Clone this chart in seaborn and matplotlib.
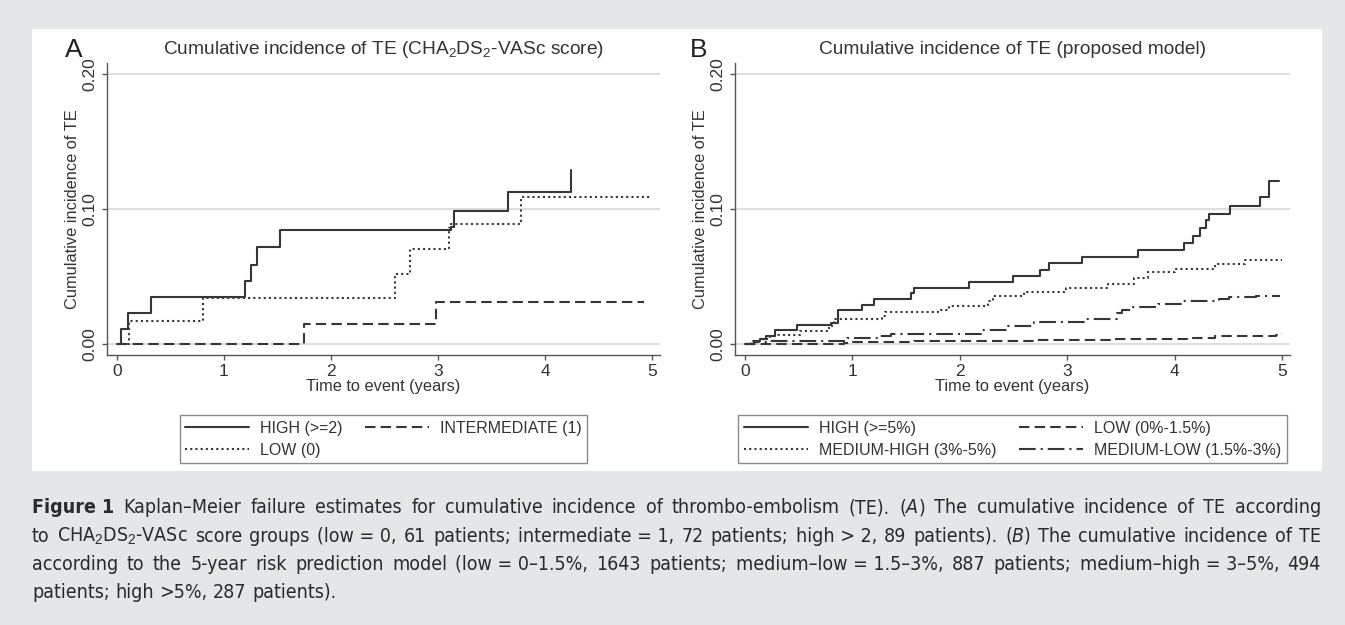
import re
import matplotlib
matplotlib.use("Agg")
import matplotlib.pyplot as plt
import seaborn as sns
from matplotlib import font_manager
from matplotlib.patches import Rectangle

# ---- panel A: CHA2DS2-VASc groups (step points) ----
a_high_t = [0, 0.04, 0.105, 0.316, 1.196, 1.25, 1.31, 1.52, 3.12, 3.15, 3.65, 4.24]
a_high_v = [0, 0.011, 0.023, 0.0346, 0.0464, 0.0588, 0.0716, 0.0847, 0.087, 0.0985, 0.1126, 0.129]
a_low_t = [0, 0.114, 0.80, 2.60, 2.74, 3.10, 3.12, 3.78, 5.0]
a_low_v = [0, 0.0168, 0.0338, 0.052, 0.0704, 0.086, 0.089, 0.109, 0.109]
a_int_t = [0, 1.75, 2.98, 4.93]
a_int_v = [0, 0.0151, 0.0311, 0.0311]

# ---- panel B: proposed model ----
b_high_t = [0, 0.08, 0.14, 0.20, 0.28, 0.48, 0.80, 0.87, 1.09, 1.20, 1.55, 1.57, 2.09, 2.50,
            2.75, 2.83, 3.14, 3.66, 4.09, 4.17, 4.24, 4.29, 4.32, 4.52, 4.80, 4.88, 4.97]
b_high_v = [0, 0.002, 0.004, 0.006, 0.0101, 0.0138, 0.0155, 0.0254, 0.0291, 0.0336, 0.0378,
            0.0415, 0.0457, 0.0506, 0.055, 0.060, 0.0644, 0.0699, 0.0748, 0.0802, 0.0859,
            0.0921, 0.0965, 0.1025, 0.1089, 0.121, 0.121]
b_mhigh_t = [0, 0.06, 0.13, 0.23, 0.31, 0.51, 0.78, 0.81, 0.83, 1.28, 1.30, 1.80, 1.90, 2.26,
             2.31, 2.60, 2.99, 3.38, 3.62, 3.75, 4.0, 4.38, 4.66, 5.0]
b_mhigh_v = [0, 0.002, 0.0037, 0.0057, 0.0067, 0.0093, 0.0131, 0.0156, 0.0185, 0.0205, 0.0235,
             0.0254, 0.0279, 0.0316, 0.0353, 0.0385, 0.0412, 0.0444, 0.049, 0.053, 0.0556,
             0.059, 0.062, 0.062]
b_mlow_t = [0, 0.08, 0.20, 0.95, 1.26, 1.36, 2.20, 2.45, 2.69, 3.18, 3.46, 3.51, 3.60, 3.85,
            4.08, 4.41, 4.51, 4.76, 4.98]
b_mlow_v = [0, 0.0012, 0.0025, 0.0044, 0.0057, 0.0077, 0.0101, 0.0134, 0.016, 0.0188, 0.023,
            0.0254, 0.0274, 0.0299, 0.0316, 0.0333, 0.0348, 0.0358, 0.0358]
b_low_t = [0, 0.92, 1.01, 1.57, 2.70, 3.41, 4.12, 4.38, 4.94, 4.99]
b_low_v = [0, 0.0007, 0.0015, 0.0022, 0.0032, 0.004, 0.0044, 0.0057, 0.0069, 0.0081]

yticks = [0, 0.1, 0.2]
ytick_labels = ["0.00", "0.10", "0.20"]
xticks = [0, 1, 2, 3, 4, 5]

caption_lines = [
    "**Figure~1** Kaplan–Meier failure estimates for cumulative incidence of thrombo-embolism (TE). (*A*) The cumulative incidence of TE according",
    "to CHA$_2$DS$_2$-VASc score groups (low~=~0, 61 patients; intermediate~=~1, 72 patients; high~>~2, 89 patients). (*B*) The cumulative incidence of TE",
    "according to the 5-year risk prediction model (low~=~0–1.5%, 1643 patients; medium–low~=~1.5–3%, 887 patients; medium–high~=~3–5%, 494",
    "patients; high >5%, 287 patients).",
]

sns.set_style("white")
plt.rcParams["font.family"] = ["Liberation Sans", "DejaVu Sans"]
plt.rcParams["mathtext.fontset"] = "custom"
plt.rcParams["mathtext.rm"] = "Liberation Sans"
plt.rcParams["mathtext.it"] = "Liberation Sans:italic"

names = {f.name for f in font_manager.fontManager.ttflist}
cap_family = "Liberation Sans Narrow" if "Liberation Sans Narrow" in names else "DejaVu Sans"
cap_stretch = "normal" if cap_family == "Liberation Sans Narrow" else "condensed"

W, H = 1345, 625
LINE = "#363636"
TXT = "#333333"
fig = plt.figure(figsize=(W / 100, H / 100), dpi=100)
fig.patch.set_facecolor("#e5e6e8")
fig.patches.append(Rectangle((32 / W, 1 - 471 / H), (1322 - 32) / W, (471 - 29) / H,
                             transform=fig.transFigure, facecolor="white", edgecolor="none",
                             zorder=-5))

ax_a = fig.add_axes([107 / W, 1 - 355 / H, 553 / W, 292 / H])
ax_b = fig.add_axes([735 / W, 1 - 355 / H, 555 / W, 292 / H])

styles = {
    "solid": "-",
    "dot": (0, (1, 1.5)),
    "dash": (0, (5, 2.5)),
    "dashdot": (0, (8, 2.4, 1, 2.4)),
}


def km(ax, t, v, ls, label):
    sns.lineplot(x=t, y=v, ax=ax, drawstyle="steps-post", color=LINE, linewidth=1.5,
                 linestyle=styles[ls], label=label, errorbar=None, sort=False, legend=False)


km(ax_a, a_high_t, a_high_v, "solid", "HIGH (>=2)")
km(ax_a, a_low_t, a_low_v, "dot", "LOW (0)")
km(ax_a, a_int_t, a_int_v, "dash", "INTERMEDIATE (1)")

km(ax_b, b_high_t, b_high_v, "solid", "HIGH (>=5%)")
km(ax_b, b_mhigh_t, b_mhigh_v, "dot", "MEDIUM-HIGH (3%-5%)")
km(ax_b, b_low_t, b_low_v, "dash", "LOW (0%-1.5%)")
km(ax_b, b_mlow_t, b_mlow_v, "dashdot", "MEDIUM-LOW (1.5%-3%)")

titles = ["Cumulative incidence of TE (CHA$_2$DS$_2$-VASc score)",
          "Cumulative incidence of TE (proposed model)"]

for ax, title in zip([ax_a, ax_b], titles):
    ax.set_zorder(1)
    ax.set_xlim(-0.093, 5.075)
    ax.set_ylim(-0.0081, 0.2081)
    ax.set_xticks(xticks)
    ax.set_yticks(yticks)
    ax.set_yticklabels(ytick_labels)
    ax.set_axisbelow(True)
    ax.yaxis.grid(True, color="#dedede", linewidth=1.5)
    ax.xaxis.grid(False)
    for s in ["top", "right"]:
        ax.spines[s].set_visible(False)
    for s in ["left", "bottom"]:
        ax.spines[s].set_color("#555555")
        ax.spines[s].set_linewidth(1.0)
    ax.tick_params(direction="out", length=3.8, width=1.0, color="#555555",
                   labelsize=12.5, labelcolor=TXT, pad=3, left=True, bottom=True)
    ax.tick_params(axis="y", labelrotation=90)
    for lab in ax.get_yticklabels():
        lab.set_va("center")
    ax.set_xlabel("Time to event (years)", fontsize=11.8, color=TXT, labelpad=0)
    ax.set_ylabel("Cumulative incidence of TE", fontsize=11.8, color=TXT, labelpad=2)
    ax.text(0.5, (355 - 50) / 292, title, transform=ax.transAxes, ha="center", va="center",
            fontsize=13.8, color=TXT)

    handles = ax.get_lines()
    labels = [h.get_label() for h in handles]
    leg = ax.legend(handles, labels, ncol=2, loc="upper center",
                    bbox_to_anchor=(0.5, -(407 - 355) / 292), fontsize=11.5, frameon=True,
                    fancybox=False, framealpha=1, edgecolor="#8a8a8a", handlelength=4.0,
                    handletextpad=0.7, columnspacing=1.4, labelspacing=0.45, borderpad=0.35)
    leg.get_frame().set_linewidth(1.0)
    for t in leg.get_texts():
        t.set_color(TXT)

fig.text(65 / W, 1 - 50 / H, "A", fontsize=19, ha="left", va="center", color="#222222")
fig.text(690 / W, 1 - 50 / H, "B", fontsize=19, ha="left", va="center", color="#222222")

# ---- caption, justified word by word ----
renderer = fig.canvas.get_renderer()


def parse(word):
    out = []
    for part in re.split(r"(\*\*[^*]+\*\*|\*[^*]+\*)", word):
        if not part:
            continue
        if part.startswith("**"):
            out.append((part[2:-2], "bold", "normal"))
        elif part.startswith("*"):
            out.append((part[1:-1], "normal", "italic"))
        else:
            out.append((part, "normal", "normal"))
    return out


def put_word(word, x, y):
    texts = []
    for s, weight, style in parse(word):
        tx = fig.text(x / W, 1 - y / H, s.replace("~", " "), family=cap_family,
                      fontstretch=cap_stretch, fontsize=14, fontweight=weight,
                      fontstyle=style, color="#2a2a2a", ha="left", va="baseline")
        x += tx.get_window_extent(renderer).width
        texts.append(tx)
    return texts, x


x0, x1 = 32, 1321
space = fig.text(0, 0, "a a", family=cap_family, fontstretch=cap_stretch, fontsize=14)
sp = space.get_window_extent(renderer).width
space.set_text("aa")
sp -= space.get_window_extent(renderer).width
space.remove()

for i, line in enumerate(caption_lines):
    y = 513 + i * 28.5
    words = line.split(" ")
    placed = []
    total = 0
    for w in words:
        texts, end = put_word(w, 0, y)
        placed.append((texts, end))
        total += end
    justify = i < len(caption_lines) - 1
    gap = (x1 - x0 - total) / (len(words) - 1) if justify else sp
    x = x0
    for texts, end in placed:
        for tx in texts:
            px, py = tx.get_position()
            tx.set_position((px + x / W, py))
        x += end + gap

fig.savefig("out.png", dpi=100, facecolor=fig.get_facecolor())
